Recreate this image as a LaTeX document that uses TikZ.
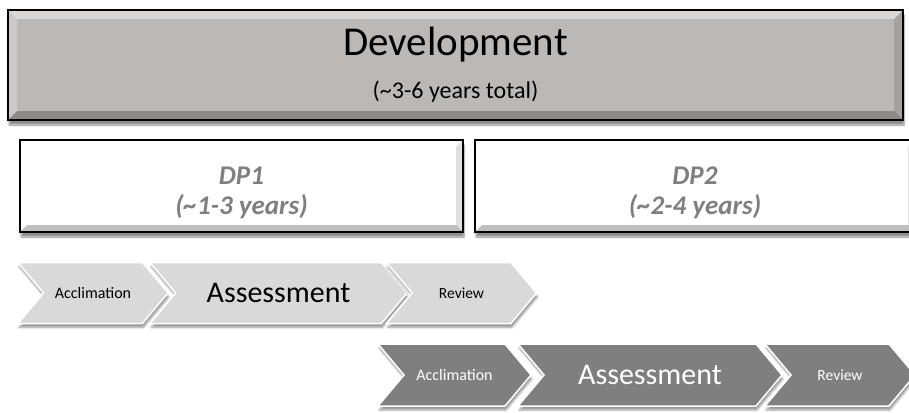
\documentclass[tikz,border=0pt]{standalone}
\usepackage{fontspec}
\setmainfont{Carlito}
\usetikzlibrary{shapes.symbols,shadows.blur}

\definecolor{devgray}{HTML}{BCB8B6}
\definecolor{chevlight}{HTML}{D9D9D9}
\definecolor{chevdark}{HTML}{7F7F7F}
\definecolor{dptext}{HTML}{7F7F7F}

\tikzset{
  bevel/.style={path picture={
      \fill[white,opacity=.45] (path picture bounding box.north west) -- (path picture bounding box.north east)
        -- ([xshift=-#1,yshift=-#1]path picture bounding box.north east) -- ([xshift=#1,yshift=-#1]path picture bounding box.north west) -- cycle;
      \fill[white,opacity=.25] (path picture bounding box.north west) -- (path picture bounding box.south west)
        -- ([xshift=#1,yshift=#1]path picture bounding box.south west) -- ([xshift=#1,yshift=-#1]path picture bounding box.north west) -- cycle;
      \fill[black,opacity=.25] (path picture bounding box.south west) -- (path picture bounding box.south east)
        -- ([xshift=-#1,yshift=#1]path picture bounding box.south east) -- ([xshift=#1,yshift=#1]path picture bounding box.south west) -- cycle;
      \fill[black,opacity=.12] (path picture bounding box.north east) -- (path picture bounding box.south east)
        -- ([xshift=-#1,yshift=#1]path picture bounding box.south east) -- ([xshift=-#1,yshift=-#1]path picture bounding box.north east) -- cycle;
    }},
  phasebox/.style={draw=black,line width=2pt,inner sep=0pt,
    blur shadow={shadow xshift=1pt,shadow yshift=-5pt,shadow blur steps=6,shadow opacity=45}},
  chevron/.style={signal,signal from=west,signal to=east,signal pointer angle=100,
    draw=white,line width=1.5pt,inner sep=0pt,
    blur shadow={shadow xshift=1pt,shadow yshift=-4pt,shadow blur steps=5,shadow opacity=40}},
}

\begin{document}
\begin{tikzpicture}[x=1pt,y=-1pt]
  \useasboundingbox (0,0) rectangle (909,412);

  % development and the two phases
  \node[phasebox,fill=devgray,bevel=9pt,minimum width=895pt,minimum height=110pt] (dev) at (455.5,65) {};
  \node (devtitle) at (455.5,45) {\fontsize{41}{48}\selectfont Development};
  \node (devnote)  at (455.5,92) {\fontsize{24}{28}\selectfont (\textasciitilde3-6 years total)};

  \node[phasebox,fill=white,bevel=7pt,minimum width=443pt,minimum height=92pt] (dp1) at (241.5,186) {};
  \node[phasebox,fill=white,bevel=7pt,minimum width=440pt,minimum height=92pt] (dp2) at (695,186) {};

  \begin{scope}[every node/.style={text=dptext,font=\bfseries\itshape\fontsize{27}{30}\selectfont}]
    \node (dp1name)  at (241.5,176) {DP1};
    \node (dp1years) at (241.5,207) {(\textasciitilde1-3 years)};
    \node (dp2name)  at (695,176)   {DP2};
    \node (dp2years) at (695,207)   {(\textasciitilde2-4 years)};
  \end{scope}

  % first cycle
  \begin{scope}[every node/.style={chevron,fill=chevlight,text=black,minimum height=61pt}]
    \node[minimum width=150pt] (acc1) at (93,293)    {\fontsize{16}{19}\selectfont Acclimation};
    \node[minimum width=257pt] (ass1) at (278.5,293) {\fontsize{30}{36}\selectfont Assessment};
    \node[minimum width=150pt] (rev1) at (461.5,293) {\fontsize{15.5}{18}\selectfont Review};
  \end{scope}

  % second cycle
  \begin{scope}[every node/.style={chevron,fill=chevdark,text=white,minimum height=62pt}]
    \node[minimum width=153pt] (acc2) at (454.5,375) {\fontsize{16}{19}\selectfont Acclimation};
    \node[minimum width=264pt] (ass2) at (650,375)   {\fontsize{30}{36}\selectfont Assessment};
    \node[minimum width=150pt] (rev2) at (840,375)   {\fontsize{15.5}{18}\selectfont Review};
  \end{scope}

\end{tikzpicture}
\end{document}
